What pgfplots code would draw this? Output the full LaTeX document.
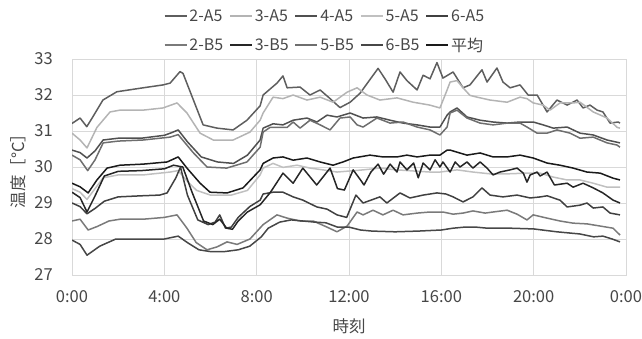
\documentclass[border=0pt]{standalone}
\usepackage{pgfplots}
\pgfplotsset{compat=1.18}
\usepackage{fontspec}
\setmainfont{Noto Sans CJK JP}
\definecolor{gA}{HTML}{5E5E5E}
\definecolor{gB}{HTML}{B4B4B4}
\definecolor{gC}{HTML}{505050}
\definecolor{gD}{HTML}{C0C0C0}
\definecolor{gE}{HTML}{404040}
\definecolor{gF}{HTML}{7A7A7A}
\definecolor{gG}{HTML}{262626}
\definecolor{gH}{HTML}{6E6E6E}
\definecolor{gI}{HTML}{474747}
\definecolor{gJ}{HTML}{1A1A1A}
\definecolor{gridc}{HTML}{D9D9D9}
\definecolor{txt}{HTML}{474747}
\begin{document}
\begin{tikzpicture}
\path[use as bounding box] (0,0) rectangle (642pt,338pt);
\begin{axis}[
  at={(72pt,63pt)}, anchor=south west,
  scale only axis, width=554pt, height=216pt,
  xmin=0, xmax=24, ymin=27, ymax=33,
  xtick={0,4,8,12,16,20,24},
  xticklabels={0:00,4:00,8:00,12:00,16:00,20:00,0:00},
  ytick={27,28,29,30,31,32,33},
  yticklabels={27,28,29,30,31,32,33},
  grid=major, major grid style={gridc, line width=0.9pt},
  axis line style={gridc, line width=0.9pt},
  tick style={draw=none},
  ticklabel style={font=\fontsize{16.5}{18}\selectfont, text=txt},
  xticklabel style={anchor=north, inner sep=0pt, yshift=-15pt},
  yticklabel style={anchor=east, inner sep=0pt, xshift=-19pt},
  every axis x label/.style={at={(axis description cs:0.5,0)}, anchor=center, yshift=-51pt, font=\fontsize{16.5}{18}\selectfont, text=txt},
  every axis y label/.style={at={(axis description cs:0,0.5)}, rotate=90, anchor=center, yshift=54pt, font=\fontsize{16.5}{18}\selectfont, text=txt},
  xlabel={時刻}, ylabel={温度［°C］},
  legend columns=5,
  legend style={draw=none, fill=none, at={(253pt,244pt)}, anchor=center,
    font=\fontsize{16}{18}\selectfont, text=txt,
    /tikz/every even column/.append style={column sep=4pt},
    row sep=11pt, inner sep=0pt},
  legend cell align=left,
  legend image code/.code={\draw[#1, line width=1.6pt] (0pt,0pt) -- (22pt,0pt);},
  every axis plot/.append style={line width=1.5pt, line join=round},
]
% 2-A5
\addplot[gA] coordinates {(0,31.21)(0.35,31.36)(0.64,31.12)(0.91,31.4)(1.34,31.86)(1.94,32.09)(3.08,32.2)(3.94,32.28)(4.25,32.33)(4.68,32.65)(4.81,32.6)(5.68,31.17)(6.28,31.08)(6.98,31.03)(7.58,31.3)(8.15,31.7)(8.28,32.0)(8.88,32.33)(9.14,32.53)(9.32,32.2)(9.88,32.22)(10.31,32.0)(10.75,32.14)(11.18,31.9)(11.61,31.65)(12.05,31.8)(12.48,32.05)(13.26,32.74)(13.56,32.45)(13.91,32.08)(14.21,32.64)(14.51,32.4)(14.95,32.14)(15.21,32.55)(15.51,32.45)(15.81,32.9)(16.07,32.47)(16.51,32.64)(16.94,32.2)(17.24,32.28)(17.76,32.7)(17.98,32.36)(18.41,32.75)(18.67,32.36)(18.98,32.2)(19.41,32.28)(19.76,32.0)(20.15,32.0)(20.58,31.53)(21.01,31.86)(21.45,31.72)(21.88,31.86)(22.14,31.64)(22.44,31.72)(22.75,31.58)(23.0,31.53)(23.31,31.22)(23.66,31.25)(23.74,31.22)};
\addlegendentry{2-A5}
% 3-A5
\addplot[gB] coordinates {(0,30.94)(0.35,30.75)(0.65,30.53)(1.08,31.1)(1.65,31.53)(2.08,31.58)(3.08,31.58)(3.94,31.64)(4.55,31.78)(4.98,31.5)(5.55,30.94)(6.12,30.75)(6.98,30.75)(7.71,30.97)(8.15,31.3)(8.28,31.5)(8.71,31.94)(9.14,31.9)(9.58,32.0)(10.18,31.86)(10.75,31.94)(11.31,31.8)(11.92,32.08)(12.35,32.2)(12.78,32.0)(13.34,31.86)(14.08,31.92)(14.78,31.8)(15.5,31.72)(15.94,31.64)(16.25,32.14)(16.38,32.36)(16.68,32.4)(16.94,32.2)(17.24,31.99)(17.55,31.94)(18.11,31.86)(18.85,31.8)(19.41,31.94)(19.71,31.9)(19.98,31.78)(20.41,31.72)(20.71,31.58)(21.14,31.78)(21.71,31.78)(22.01,31.8)(22.58,31.53)(23.18,31.36)(23.62,31.1)(23.74,31.08)};
\addlegendentry{3-A5}
% 4-A5
\addplot[gC] coordinates {(0,30.47)(0.35,30.4)(0.65,30.25)(1.0,30.45)(1.35,30.75)(2.0,30.8)(3.0,30.8)(4.0,30.88)(4.3,30.95)(4.6,31.03)(5.0,30.7)(5.6,30.28)(6.3,30.14)(7.0,30.1)(7.6,30.33)(8.15,30.75)(8.28,31.08)(8.71,31.2)(9.14,31.17)(9.58,31.3)(10.18,31.36)(10.61,31.25)(11.05,31.44)(11.48,31.39)(12.05,31.5)(12.61,31.36)(13.21,31.39)(13.78,31.3)(14.34,31.22)(14.95,31.17)(15.51,31.11)(15.94,31.11)(16.25,31.44)(16.38,31.53)(16.68,31.64)(17.11,31.39)(17.68,31.3)(18.24,31.25)(18.85,31.22)(19.41,31.25)(19.98,31.25)(20.41,31.17)(20.85,31.08)(21.45,31.11)(22.01,30.94)(22.58,30.89)(23.18,30.75)(23.74,30.67)};
\addlegendentry{4-A5}
% 5-A5
\addplot[gD] coordinates {(0,29.4)(0.35,29.3)(0.65,29.1)(1.0,29.4)(1.35,29.7)(2.0,29.78)(3.08,29.78)(4.25,29.86)(4.6,29.9)(5.0,29.6)(5.4,29.35)(6.0,29.22)(6.9,29.22)(7.6,29.35)(8.15,29.78)(8.28,29.97)(8.71,30.1)(9.14,29.99)(9.75,30.05)(10.31,29.97)(10.88,29.92)(11.48,29.86)(12.05,29.89)(12.61,29.92)(13.34,29.97)(14.08,29.92)(14.78,29.89)(15.51,29.86)(15.94,29.86)(16.68,29.92)(17.37,29.86)(18.11,29.81)(18.85,29.81)(19.71,29.83)(20.28,29.83)(20.85,29.72)(21.45,29.64)(22.01,29.64)(22.58,29.55)(23.18,29.44)(23.74,29.44)};
\addlegendentry{5-A5}
% 6-A5
\addplot[gE] coordinates {(0,29.0)(0.35,28.9)(0.65,28.7)(1.0,28.85)(1.4,29.05)(2.0,29.17)(3.0,29.2)(3.8,29.22)(4.12,29.28)(4.5,29.7)(4.7,30.0)(5.0,29.22)(5.45,28.53)(5.9,28.4)(6.2,28.47)(6.4,28.67)(6.65,28.3)(6.9,28.33)(7.2,28.6)(7.7,28.9)(8.15,29.08)(8.28,29.25)(8.71,29.3)(9.14,29.3)(9.58,29.17)(10.0,29.08)(10.61,28.89)(11.05,28.83)(11.48,28.67)(11.9,28.6)(12.3,29.22)(12.61,29.0)(13.34,29.17)(13.64,29.0)(14.21,29.28)(14.64,29.14)(15.21,29.22)(15.81,29.28)(16.2,29.25)(16.51,29.17)(16.94,29.03)(17.37,29.17)(17.76,29.42)(18.11,29.22)(18.67,29.17)(19.28,29.22)(19.85,29.14)(20.3,29.17)(20.58,29.2)(21.14,29.08)(21.45,28.89)(22.01,28.94)(22.31,29.0)(22.58,28.86)(23.0,28.89)(23.31,28.72)(23.74,28.67)};
\addlegendentry{6-A5}
% 2-B5
\addplot[gF] coordinates {(0,28.5)(0.35,28.55)(0.7,28.25)(1.1,28.35)(1.6,28.5)(2.08,28.55)(3.08,28.55)(4.0,28.6)(4.55,28.67)(4.98,28.3)(5.38,27.9)(5.85,27.7)(6.28,27.78)(6.72,27.92)(7.15,27.85)(7.71,28.0)(8.28,28.4)(8.88,28.67)(9.32,28.58)(9.88,28.5)(10.45,28.5)(11.05,28.33)(11.48,28.2)(11.92,28.36)(12.35,28.75)(12.61,28.67)(13.04,28.8)(13.47,28.67)(13.91,28.8)(14.34,28.67)(14.95,28.72)(15.51,28.75)(16.07,28.75)(16.51,28.69)(16.94,28.72)(17.37,28.78)(17.9,28.72)(18.24,28.75)(18.85,28.8)(19.28,28.69)(19.71,28.53)(19.98,28.67)(20.58,28.58)(21.14,28.5)(21.71,28.44)(22.31,28.42)(22.88,28.36)(23.44,28.3)(23.74,28.11)};
\addlegendentry{2-B5}
% 3-B5
\addplot[gG] coordinates {(0,29.3)(0.35,29.15)(0.65,28.75)(1.0,29.2)(1.4,29.75)(2.0,29.88)(3.0,29.9)(4.0,29.95)(4.4,30.05)(4.8,30.0)(5.2,29.3)(5.7,28.5)(6.1,28.4)(6.4,28.55)(6.7,28.3)(6.95,28.27)(7.2,28.5)(7.6,28.75)(8.15,28.95)(8.6,29.3)(9.14,29.83)(9.58,29.55)(10.0,29.97)(10.6,29.5)(11.18,29.97)(11.5,29.4)(11.8,29.36)(12.18,29.92)(12.5,29.64)(12.65,29.5)(12.95,29.86)(13.26,30.08)(13.5,29.8)(13.78,30.08)(14.08,29.86)(14.21,30.14)(14.51,29.92)(14.8,30.11)(15.0,29.7)(15.21,30.11)(15.51,29.92)(15.73,30.2)(15.94,30.0)(16.07,30.14)(16.38,29.86)(16.6,30.14)(16.81,30.0)(17.11,30.14)(17.37,29.97)(17.68,30.14)(17.98,29.97)(18.24,29.78)(18.54,29.86)(18.98,29.92)(19.28,29.97)(19.55,29.83)(19.71,29.58)(19.85,29.78)(20.15,29.86)(20.28,29.75)(20.58,29.86)(20.9,29.5)(21.45,29.55)(21.71,29.44)(22.14,29.55)(22.58,29.42)(23.0,29.28)(23.44,29.08)(23.74,29.0)};
\addlegendentry{3-B5}
% 5-B5
\addplot[gH] coordinates {(0,30.33)(0.35,30.2)(0.68,29.9)(1.0,30.2)(1.35,30.67)(2.0,30.72)(3.08,30.75)(4.25,30.83)(4.6,30.9)(5.25,30.4)(5.85,30.0)(6.7,29.97)(7.58,30.14)(8.15,30.55)(8.28,30.97)(8.58,31.1)(9.01,31.1)(9.32,31.1)(9.58,31.25)(9.88,31.08)(10.31,31.3)(10.75,31.17)(11.18,31.03)(11.61,31.36)(12.05,31.39)(12.35,31.17)(12.61,31.11)(13.21,31.36)(13.78,31.22)(14.34,31.25)(14.95,31.11)(15.51,31.03)(15.94,30.89)(16.25,31.11)(16.38,31.5)(16.68,31.58)(17.11,31.36)(17.68,31.22)(18.24,31.17)(18.85,31.22)(19.41,31.22)(19.71,31.11)(20.15,30.94)(20.58,30.94)(21.01,31.03)(21.58,30.94)(22.01,30.8)(22.58,30.83)(23.18,30.67)(23.61,30.61)(23.74,30.55)};
\addlegendentry{5-B5}
% 6-B5
\addplot[gI] coordinates {(0,27.97)(0.35,27.85)(0.65,27.55)(1.2,27.8)(1.9,28.0)(3.0,28.0)(4.0,28.0)(4.6,28.08)(5.0,27.9)(5.5,27.7)(6.0,27.65)(6.6,27.65)(7.2,27.7)(7.7,27.8)(8.2,28.06)(8.5,28.3)(9.0,28.47)(9.5,28.53)(10.0,28.5)(10.5,28.47)(11.0,28.45)(11.5,28.33)(12.0,28.33)(12.5,28.25)(13.0,28.22)(14.0,28.2)(15.0,28.22)(16.0,28.25)(16.5,28.3)(17.0,28.33)(17.5,28.33)(18.0,28.3)(19.0,28.3)(20.0,28.28)(21.0,28.2)(22.0,28.14)(22.6,28.06)(23.0,28.08)(23.4,28.0)(23.74,27.92)};
\addlegendentry{6-B5}
% 平均
\addplot[gJ] coordinates {(0,29.55)(0.35,29.45)(0.7,29.28)(1.08,29.64)(1.52,29.97)(2.08,30.05)(3.08,30.08)(4.12,30.14)(4.6,30.28)(4.98,29.97)(5.55,29.55)(5.98,29.3)(6.72,29.28)(7.41,29.42)(8.15,29.92)(8.28,30.1)(8.71,30.25)(9.14,30.28)(9.58,30.19)(10.18,30.25)(10.75,30.14)(11.31,30.05)(11.74,30.14)(12.18,30.25)(12.91,30.33)(13.47,30.28)(14.08,30.28)(14.51,30.33)(14.95,30.28)(15.51,30.33)(15.94,30.33)(16.25,30.47)(16.38,30.47)(17.11,30.33)(17.68,30.39)(18.24,30.28)(18.85,30.28)(19.41,30.33)(19.98,30.25)(20.58,30.11)(21.14,30.05)(21.71,29.97)(22.31,29.86)(22.88,29.83)(23.44,29.69)(23.74,29.64)};
\addlegendentry{平均}
\end{axis}
\end{tikzpicture}
\end{document}
